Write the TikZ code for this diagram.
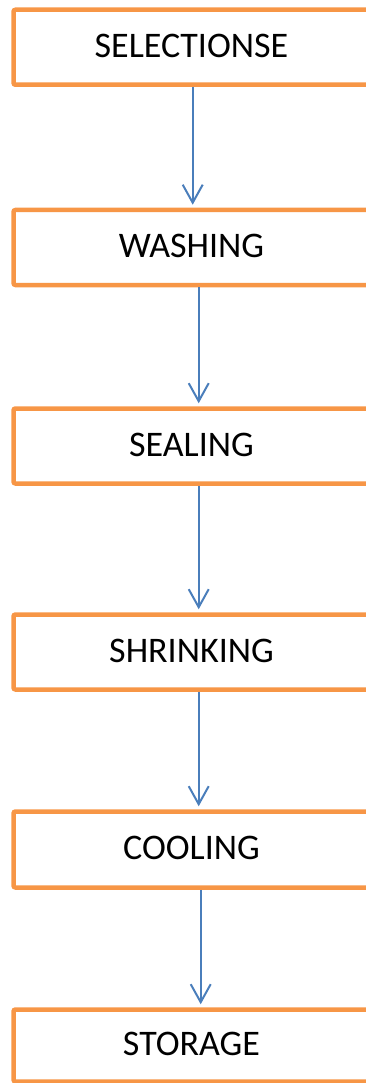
\documentclass[tikz,border=0pt]{standalone}
\usepackage{fontspec}
\setmainfont{Carlito}
\usetikzlibrary{arrows.meta}
\definecolor{boxorange}{HTML}{F79646}
\definecolor{arrowblue}{HTML}{4A7EBB}
\tikzset{
  stepbox/.style={draw=boxorange, line width=4.5pt, rounded corners=2pt, fill=white,
    minimum width=356pt, minimum height=75pt, inner sep=0pt,
    font=\fontsize{36}{40}\selectfont, text height=23.2pt, text depth=3pt},
  flowarrow/.style={draw=arrowblue, line width=2pt,
    -{Straight Barb[length=18pt,width=20pt]}, shorten >=3pt}
}
\begin{document}
\begin{tikzpicture}[x=1pt,y=-1pt]
\useasboundingbox (0,0) rectangle (366,1083);
\node[stepbox] (n1) at (191.5,47.25) {SELECTIONSE};
\node[stepbox] (n2) at (191.5,247.5) {WASHING};
\node[stepbox] (n3) at (191.5,446) {SEALING};
\node[stepbox] (n4) at (191.5,652) {SHRINKING};
\node[stepbox, minimum height=76pt] (n5) at (191.5,849.5) {COOLING};
\node[stepbox, minimum height=72pt] (n6) at (191.5,1045.5) {STORAGE};
\draw[flowarrow] ([xshift=1.2pt]n1.south) -- ([xshift=1.2pt]n2.north);
\draw[flowarrow] ([xshift=7.2pt]n2.south) -- ([xshift=7.2pt]n3.north);
\draw[flowarrow] ([xshift=7.2pt]n3.south) -- ([xshift=7.2pt]n4.north);
\draw[flowarrow] ([xshift=7.2pt]n4.south) -- ([xshift=7.2pt]n5.north);
\draw[flowarrow] ([xshift=9.2pt]n5.south) -- ([xshift=9.2pt]n6.north);
\end{tikzpicture}
\end{document}
